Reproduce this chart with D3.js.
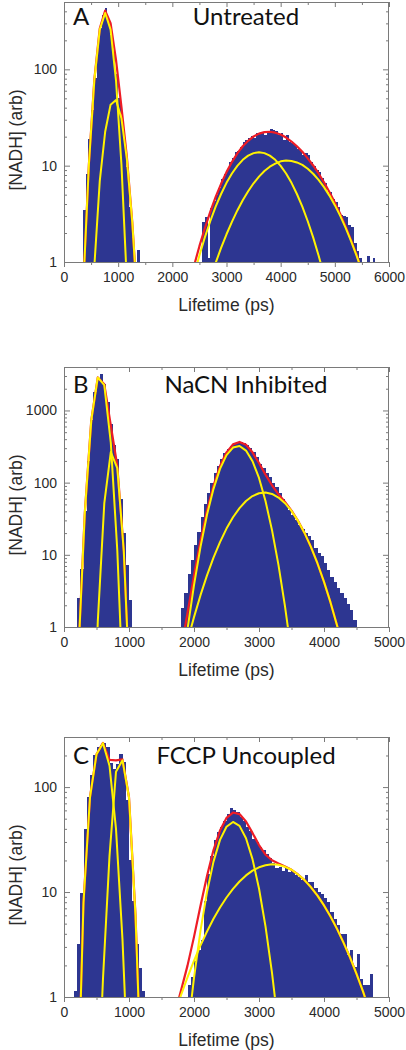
<!DOCTYPE html>
<html><head><meta charset="utf-8">
<script src="https://cdn.jsdelivr.net/npm/d3@7"></script>
<style>body{margin:0;background:#fff}</style>
</head><body>
<script>
const BIN = 50;
const panelLetters = ["A", "B", "C"];
const panelTitles = ["Untreated", "NaCN Inhibited", "FCCP Uncoupled"];
const xMaxes = [6000, 5000, 5000];
const yMaxes = [500, 4000, 300];
const yMajorTicks = [[1, 10, 100], [1, 10, 100, 1000], [1, 10, 100]];
const xLabel = "Lifetime (ps)";
const yLabel = "[NADH] (arb)";

// ---- Panel A: Untreated ----
const histA = [[350,3.5],[400,8.1],[450,19],[500,38],[550,82],[600,168],[650,270],[700,370],[750,434],[800,330],[850,225],[900,150],[950,90],[1000,51],[1050,29],[1100,17],[1150,9.7],[1200,3.7],[1250,1.76],[1350,1.33],
 [2550,2.6],[2600,2.9],[2650,1.1],[2700,3.6],[2750,4.3],[2800,5.0],[2850,5.9],[2900,7.2],[2950,8.2],[3000,9.0],[3050,10.8],[3100,11.9],[3150,13.8],[3200,14.3],[3250,15.7],[3300,17.5],[3350,18.6],[3400,19.3],[3450,20.4],[3500,19.5],[3550,21.8],[3600,21.2],[3650,22.4],[3700,20.8],[3750,22.5],[3800,24.0],[3850,23.6],[3900,22.8],[3950,21.0],[4000,22.0],[4050,18.5],[4100,21.0],[4150,17.6],[4200,17.2],[4250,16.5],[4300,15.0],[4350,14.4],[4400,13.0],[4450,13.5],[4500,13.0],[4550,10.9],[4600,10.0],[4650,9.0],[4700,8.6],[4750,7.5],[4800,6.6],[4850,5.1],[4900,5.3],[4950,4.5],[5000,4.2],[5050,3.7],[5100,3.1],[5150,3.0],[5200,2.9],[5250,2.4],[5300,2.3],[5350,1.56],[5400,1.3],[5450,1.1],[5600,1.15],[5700,1.1]];
const sumA1 = [[360,0.63],[460,10.4],[560,78],[660,265],[760,407],[860,301],[960,125],[1060,41],[1160,12.4],[1260,2.6],[1360,0.34]];
const compA1 = [[360,0.63],[460,10.4],[560,77],[660,258],[760,385],[860,258],[960,77],[1060,10.4],[1160,0.63],[1260,0.02]];
const compA2 = [[460,0.1],[560,0.9],[660,6.9],[760,22.5],[860,43],[960,48],[1060,31],[1160,11.8],[1260,2.6],[1360,0.34]];
const sumA2 = [[2400,0.91],[2500,1.46],[2600,2.24],[2700,3.32],[2800,4.73],[2900,6.48],[3000,8.57],[3100,10.9],[3200,13.4],[3300,15.9],[3400,18.1],[3500,20.1],[3600,21.5],[3700,22.3],[3800,22.5],[3900,22.0],[4000,21.1],[4100,19.6],[4200,17.8],[4300,15.9],[4400,13.95],[4500,11.9],[4600,10.05],[4700,8.3],[4800,6.72],[4900,5.33],[5000,4.14],[5100,3.15],[5200,2.34],[5300,1.69],[5400,1.19],[5500,0.81],[5600,0.55]];
const compA3 = [[2300,0.42],[2400,0.73],[2500,1.17],[2600,1.80],[2700,2.65],[2800,3.75],[2900,5.08],[3000,6.63],[3100,8.29],[3200,9.96],[3300,11.5],[3400,12.7],[3500,13.5],[3600,13.8],[3700,13.5],[3800,12.7],[3900,11.5],[4000,9.96],[4100,8.29],[4200,6.63],[4300,5.08],[4400,3.75],[4500,2.65],[4600,1.80],[4700,1.17],[4800,0.73],[4900,0.44]];
const compA4 = [[2700,0.67],[2800,0.98],[2900,1.40],[3000,1.94],[3100,2.61],[3200,3.43],[3300,4.38],[3400,5.43],[3500,6.56],[3600,7.69],[3700,8.79],[3800,9.75],[3900,10.5],[4000,11.1],[4100,11.3],[4200,11.2],[4300,10.8],[4400,10.2],[4500,9.29],[4600,8.25],[4700,7.13],[4800,5.99],[4900,4.89],[5000,3.89],[5100,3.01],[5200,2.26],[5300,1.65],[5400,1.17],[5500,0.81],[5600,0.55]];

// ---- Panel B: NaCN Inhibited ----
const histB = [[200,2.5],[250,6.4],[300,40],[350,200],[400,730],[450,1800],[500,2800],[550,3200],[600,2300],[650,1300],[700,650],[750,330],[800,210],[850,60],[900,20],[950,7.2],[1000,2.4],
 [1800,1.85],[1850,3.0],[1900,5.5],[1950,8.5],[2000,13.5],[2050,21],[2100,33],[2150,50],[2200,72],[2250,100],[2300,135],[2350,172],[2400,215],[2450,255],[2500,295],[2550,325],[2600,345],[2650,360],[2700,362],[2750,350],[2800,330],[2850,300],[2900,262],[2950,225],[3000,180],[3050,160],[3100,138],[3150,118],[3200,100],[3250,86],[3300,72],[3350,60],[3400,50],[3450,42],[3500,36],[3550,30],[3600,26],[3650,23],[3700,20],[3750,18],[3800,16],[3850,12.5],[3900,10.5],[3950,9.5],[4000,7.6],[4050,6.2],[4100,5.0],[4150,4.2],[4200,3.5],[4250,3.0],[4300,2.5],[4350,2.1],[4400,1.7],[4450,1.25]];
const sumB1 = [[220,0.4],[320,38],[420,735],[520,2871],[620,2302],[720,622],[820,170],[920,11.3],[1020,0.1]];
const compB1 = [[220,0.4],[320,38],[420,735],[520,2870],[620,2250],[720,357],[820,11.5],[920,0.07]];
const compB2 = [[420,0.003],[520,1.2],[620,52],[720,265],[820,159],[920,11.2],[1020,0.09]];
const sumB2 = [[1800,0.47],[1900,1.57],[2000,5.18],[2100,15.7],[2200,41.1],[2300,91],[2400,170],[2500,263],[2600,339],[2700,366],[2800,334],[2900,263],[3000,187],[3100,129],[3200,92],[3300,69],[3400,54],[3500,41],[3600,29.6],[3700,20.1],[3800,12.8],[3900,7.59],[4000,4.22],[4100,2.19],[4200,1.06],[4300,0.48]];
const compB3 = [[1800,0.19],[1900,0.93],[2000,3.81],[2100,12.9],[2200,35.9],[2300,82],[2400,155],[2500,240],[2600,306],[2700,322],[2800,278],[2900,198],[3000,116],[3100,55.6],[3200,22],[3300,7.2],[3400,1.93],[3500,0.43]];
const compB4 = [[1800,0.28],[1900,0.64],[2000,1.37],[2100,2.76],[2200,5.19],[2300,9.14],[2400,15.0],[2500,23.1],[2600,33.1],[2700,44.4],[2800,55.6],[2900,65.2],[3000,71.3],[3100,73],[3200,69.7],[3300,62.2],[3400,51.9],[3500,40.5],[3600,29.5],[3700,20.1],[3800,12.8],[3900,7.59],[4000,4.22],[4100,2.19],[4200,1.06],[4300,0.48]];

// ---- Panel C: FCCP Uncoupled ----
const histC = [[150,1.15],[200,3.2],[250,9.8],[300,40],[350,80],[400,130],[450,200],[500,240],[550,250],[600,262],[650,240],[700,170],[750,150],[800,165],[850,205],[900,175],[950,75],[1000,20],[1050,8.3],[1100,3.2],[1150,1.9],[1200,1.15],
 [1900,1.3],[1950,1.55],[2000,2.2],[2050,2.8],[2100,3.5],[2150,8.3],[2200,15],[2250,22],[2300,31],[2350,37],[2400,42],[2450,48],[2500,55],[2550,63],[2600,60],[2650,58],[2700,52],[2750,48],[2800,42],[2850,38],[2900,32],[2950,30],[3000,27],[3050,25],[3100,23],[3150,21],[3200,19],[3250,17],[3300,17.5],[3350,16],[3400,17],[3450,15.5],[3500,16],[3550,14.5],[3600,14],[3650,13],[3700,14.5],[3750,12.5],[3800,12.5],[3850,11],[3900,10],[3950,9.5],[4000,8.8],[4050,8.0],[4100,6.5],[4150,5.5],[4200,4.8],[4250,4.0],[4300,4.0],[4350,2.5],[4400,2.8],[4450,1.93],[4500,2.57],[4550,1.5],[4600,1.3],[4650,1.3],[4700,1.65]];
const sumC1 = [[200,0.05],[300,8],[400,80],[500,205],[600,263.5],[700,182],[800,180],[900,183.5],[1000,80],[1100,6],[1200,0.1]];
const compC1 = [[200,0.05],[300,8],[400,80],[500,205],[600,262],[700,160],[800,40],[900,3.5],[1000,0.12]];
const compC2 = [[500,0.05],[600,1.5],[700,22],[800,140],[900,180],[1000,80],[1100,6],[1200,0.1]];
const sumC2 = [[1700,0.68],[1800,1.15],[1900,1.99],[2000,3.74],[2100,7.39],[2200,14.2],[2300,25.1],[2400,38.5],[2500,50.8],[2600,57.2],[2700,55.3],[2800,47.0],[2900,36.6],[3000,28.0],[3100,22.7],[3200,20.1],[3300,18.7],[3400,17.5],[3500,16.3],[3600,14.7],[3700,13.0],[3800,11.1],[3900,9.24],[4000,7.46],[4100,5.85],[4200,4.46],[4300,3.30],[4400,2.38],[4500,1.66],[4600,1.13],[4700,0.74]];
const compC3 = [[1800,0.11],[1900,0.45],[2000,1.52],[2100,4.29],[2200,10.0],[2300,19.5],[2400,31.4],[2500,41.9],[2600,46.5],[2700,42.7],[2800,32.6],[2900,20.6],[3000,10.8],[3100,4.71],[3200,1.70],[3300,0.51]];
const compC4 = [[1700,0.68],[1800,1.04],[1900,1.54],[2000,2.22],[2100,3.10],[2200,4.21],[2300,5.56],[2400,7.13],[2500,8.87],[2600,10.7],[2700,12.6],[2800,14.4],[2900,16.0],[3000,17.2],[3100,18.0],[3200,18.4],[3300,18.2],[3400,17.4],[3500,16.3],[3600,14.7],[3700,13.0],[3800,11.1],[3900,9.24],[4000,7.46],[4100,5.85],[4200,4.46],[4300,3.30],[4400,2.38],[4500,1.66],[4600,1.13],[4700,0.74]];

const hists = [histA, histB, histC];
const sums = [[sumA1, sumA2], [sumB1, sumB2], [sumC1, sumC2]];
const comps = [[compA1, compA2, compA3, compA4], [compB1, compB2, compB3, compB4], [compC1, compC2, compC3, compC4]];

const W = 406, Hpage = 1050;
const LEFT = 64, PW = 325, PH = 260;
const tops = [2, 367, 737];
const BAR = "#2d3691", RED = "#ee1c25", YEL = "#fff200";
const AX = "#7a7a7a", TXT = "#2a2a2a";
const numFont = "'Liberation Sans', Arial, sans-serif";
const titleFont = "Lato, 'Open Sans', sans-serif";

const svg = d3.select("body").append("svg").attr("width", W).attr("height", Hpage);

panelLetters.forEach((letter, i) => {
  const top = tops[i];
  const x = d3.scaleLinear().domain([0, xMaxes[i]]).range([LEFT, LEFT + PW]);
  const y = d3.scaleLog().domain([1, yMaxes[i]]).range([top + PH, top]);
  const g = svg.append("g");
  const clipId = "clip" + i;
  svg.append("clipPath").attr("id", clipId).append("rect")
    .attr("x", LEFT).attr("y", top).attr("width", PW).attr("height", PH);
  const plot = g.append("g").attr("clip-path", `url(#${clipId})`);

  plot.selectAll("rect.bar").data(hists[i].filter(d => d[1] > 1)).join("rect")
    .attr("class", "bar")
    .attr("shape-rendering", "crispEdges")
    .attr("x", d => Math.round(x(d[0])))
    .attr("width", d => Math.round(x(d[0] + BIN)) - Math.round(x(d[0])))
    .attr("y", d => Math.round(y(d[1])))
    .attr("height", d => Math.round(y(1)) - Math.round(y(d[1])))
    .attr("fill", BAR);

  const line = d3.line().x(d => x(d[0])).y(d => y(Math.max(d[1], 1e-4)));
  sums[i].forEach(s => plot.append("path").attr("d", line(s)).attr("fill", "none")
    .attr("stroke", RED).attr("stroke-width", 2.2).attr("stroke-linejoin", "round"));
  comps[i].forEach(s => plot.append("path").attr("d", line(s)).attr("fill", "none")
    .attr("stroke", YEL).attr("stroke-width", 2).attr("stroke-linejoin", "round"));

  const yMinor = [];
  yMajorTicks[i].forEach(d => { for (let m = 2; m <= 9; m++) if (d * m <= yMaxes[i]) yMinor.push(d * m); });
  const xMajor = d3.range(0, xMaxes[i] + 1, 1000);
  const xMinor = d3.range(500, xMaxes[i], 1000);

  const styleAxis = sel => {
    sel.select(".domain").remove();
    sel.selectAll("line").attr("stroke", AX).attr("stroke-width", 1);
    sel.selectAll("text").attr("fill", TXT).style("font-family", numFont).style("font-size", "14px");
  };
  g.append("g").attr("transform", `translate(0,${top + PH})`)
    .call(d3.axisBottom(x).tickValues(xMajor).tickFormat(d3.format("d")).tickSize(5).tickPadding(5)).call(styleAxis);
  g.append("g").attr("transform", `translate(0,${top + PH})`)
    .call(d3.axisBottom(x).tickValues(xMinor).tickFormat("").tickSize(3)).call(styleAxis);
  g.append("g").attr("transform", `translate(0,${top})`)
    .call(d3.axisTop(x).tickValues(xMajor).tickFormat("").tickSize(-5)).call(styleAxis);
  g.append("g").attr("transform", `translate(0,${top})`)
    .call(d3.axisTop(x).tickValues(xMinor).tickFormat("").tickSize(-3)).call(styleAxis);
  g.append("g").attr("transform", `translate(${LEFT},0)`)
    .call(d3.axisLeft(y).tickValues(yMajorTicks[i]).tickFormat(d3.format("d")).tickSize(-6).tickPadding(7)).call(styleAxis);
  g.append("g").attr("transform", `translate(${LEFT},0)`)
    .call(d3.axisLeft(y).tickValues(yMinor).tickFormat("").tickSize(-3)).call(styleAxis);
  g.append("g").attr("transform", `translate(${LEFT + PW},0)`)
    .call(d3.axisRight(y).tickValues(yMajorTicks[i]).tickFormat("").tickSize(-6)).call(styleAxis);
  g.append("g").attr("transform", `translate(${LEFT + PW},0)`)
    .call(d3.axisRight(y).tickValues(yMinor).tickFormat("").tickSize(-3)).call(styleAxis);

  g.append("rect").attr("x", LEFT + 0.5).attr("y", top + 0.5).attr("width", PW - 1).attr("height", PH)
    .attr("fill", "none").attr("stroke", AX).attr("stroke-width", 1);

  g.append("text").attr("x", (LEFT + LEFT + PW) / 2).attr("y", top + PH + 49)
    .attr("text-anchor", "middle").attr("fill", TXT)
    .style("font-family", numFont).style("font-size", "17.5px").text(xLabel);
  g.append("text").attr("transform", `translate(21.5,${top + PH / 2 + 8}) rotate(-90)`)
    .attr("text-anchor", "middle").attr("fill", TXT)
    .style("font-family", numFont).style("font-size", "17.5px").text(yLabel);
  const labelBase = [25, 393, 764][i];
  g.append("text").attr("x", 73).attr("y", labelBase).attr("fill", "#111")
    .style("font-family", titleFont).style("font-size", "24px").text(letter);
  g.append("text").attr("x", 246).attr("y", labelBase).attr("text-anchor", "middle").attr("fill", "#111")
    .style("font-family", titleFont).style("font-size", "24px").text(panelTitles[i]);
});
</script>
</body></html>
